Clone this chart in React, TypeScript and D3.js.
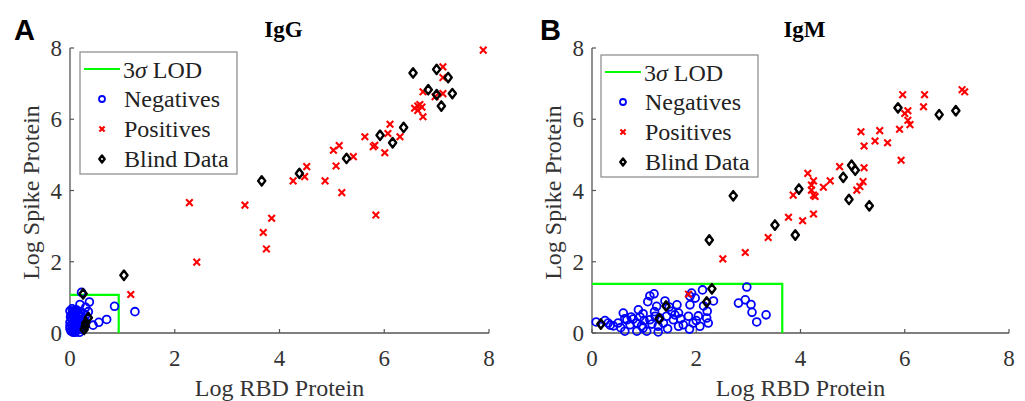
import React from "react";
import * as d3 from "d3";

// ---------- data ----------
const xTicks = [0, 2, 4, 6, 8];
const yTicks = [0, 2, 4, 6, 8];
const legendLabels = ["Negatives", "Positives", "Blind Data"];

// IgG panel
const iggLod: [number, number] = [0.93, 1.07];
const iggNegatives: [number, number][] = [
  [0.02, 0.05], [0.05, 0.15], [0.08, 0.3], [0.03, 0.4], [0.1, 0.5], [0.05, 0.6], [0.12, 0.65],
  [0.15, 0.1], [0.2, 0.2], [0.18, 0.35], [0.22, 0.45], [0.1, 0.25], [0.0, 0.3], [0.02, 0.5],
  [0.07, 0.45], [0.14, 0.4], [0.25, 0.55], [0.2, 0.6], [0.28, 0.35], [0.06, 0.02], [0.12, 0.08],
  [0.24, 0.1], [0.3, 0.5], [0.16, 0.55], [0.04, 0.68], [0.09, 0.15], [0.18, 0.02], [0.27, 0.22],
  [0.0, 0.12], [0.13, 0.3], [0.0, 0.62], [0.08, 0.05], [0.22, 0.3], [0.15, 0.2],
  [0.04, 0.22], [0.11, 0.38], [0.01, 0.45], [0.17, 0.48], [0.06, 0.55], [0.2, 0.12], [0.1, 0.02],
  [0.0, 0.2], [0.23, 0.38], [0.08, 0.62], [0.19, 0.28], [0.03, 0.08],
  [0.22, 1.14], [0.19, 0.8], [0.37, 0.87], [0.85, 0.75], [1.24, 0.6], [0.7, 0.38], [0.55, 0.3],
  [0.44, 0.22], [0.3, 0.72], [0.35, 0.6],
];
const iggPositives: [number, number][] = [
  [7.89, 7.94], [7.12, 7.47], [7.12, 7.17], [6.74, 6.77], [7.12, 6.72], [6.97, 6.63],
  [6.64, 6.37], [6.68, 6.41], [6.58, 6.31], [6.64, 6.25], [6.72, 6.34], [6.74, 6.07],
  [6.11, 5.86], [6.07, 5.6], [6.3, 5.51], [5.63, 5.51], [5.79, 5.23], [5.82, 5.27], [6.01, 5.06],
  [5.14, 5.26], [5.03, 5.13], [5.41, 4.95], [5.08, 4.69], [4.52, 4.67], [4.48, 4.39],
  [4.26, 4.27], [4.87, 4.27], [5.19, 3.94], [5.84, 3.31], [3.85, 3.22], [3.69, 2.82],
  [3.75, 2.36], [2.28, 3.66], [3.34, 3.59], [2.42, 1.99], [1.16, 1.08],
];
const iggBlind: [number, number][] = [
  [6.55, 7.3], [7.0, 7.4], [7.22, 7.17], [6.84, 6.83], [7.0, 6.69], [7.3, 6.72], [7.09, 6.37],
  [6.37, 5.77], [6.16, 5.34], [5.92, 5.55], [5.28, 4.9], [4.38, 4.48], [3.66, 4.27],
  [1.03, 1.62], [0.25, 1.1], [0.35, 0.43], [0.3, 0.28], [0.27, 0.1], [0.29, 0.19],
];

// IgM panel
const igmLod: [number, number] = [3.65, 1.38];
const igmNegatives: [number, number][] = [
  [0.08, 0.31], [0.25, 0.35], [0.31, 0.28], [0.35, 0.22], [0.41, 0.2], [0.5, 0.28], [0.6, 0.56],
  [0.63, 0.05], [0.63, 0.4], [0.67, 0.37], [0.73, 0.23], [0.79, 0.39], [0.86, 0.28], [0.86, 0.05],
  [0.89, 0.65], [0.98, 0.54], [0.98, 0.14], [1.05, 0.05], [1.11, 0.37], [1.21, 0.47], [1.27, 0.19],
  [1.27, 0.03], [1.37, 0.28], [1.43, 0.47], [1.53, 0.61], [1.56, 0.37], [1.59, 0.51], [1.66, 0.56],
  [1.66, 0.19], [1.75, 0.23], [1.85, 0.47], [1.87, 0.11], [1.94, 0.28], [2.04, 0.48], [2.07, 0.19],
  [2.2, 0.42], [2.23, 0.28], [2.21, 0.61], [1.11, 1.04], [1.19, 1.1], [1.07, 0.88], [1.24, 0.75],
  [1.4, 0.9], [1.48, 0.73], [1.63, 0.79], [1.88, 0.79], [1.88, 1.03], [1.91, 1.12], [1.98, 0.98],
  [2.12, 1.21], [2.14, 0.76], [2.33, 0.9], [2.81, 0.84], [2.97, 1.29], [2.94, 0.93], [3.05, 0.8],
  [3.07, 0.58], [3.16, 0.31], [3.34, 0.51], [0.75, 0.45], [0.92, 0.45], [1.0, 0.35], [1.15, 0.25],
  [1.3, 0.42], [0.55, 0.15], [1.45, 0.12], [1.7, 0.4], [2.0, 0.35], [1.2, 0.6], [0.95, 0.2],
];
const igmPositives: [number, number][] = [
  [7.1, 6.83], [7.15, 6.77], [6.38, 6.69], [5.96, 6.69], [6.36, 6.35], [6.06, 6.24], [6.0, 6.16],
  [6.06, 5.97], [6.1, 5.85], [5.9, 5.72], [5.16, 5.65], [5.52, 5.68], [5.43, 5.39], [5.67, 5.34],
  [5.22, 5.25], [5.93, 4.85], [4.75, 4.67], [5.22, 4.64], [4.14, 4.48], [4.57, 4.27], [4.25, 4.27],
  [4.44, 4.09], [4.21, 4.15], [5.2, 4.25], [5.14, 4.11], [5.08, 4.01], [4.21, 4.01], [4.25, 3.87],
  [4.28, 3.83], [3.86, 3.87], [4.25, 3.34], [4.04, 3.15], [3.77, 3.25], [3.38, 2.68], [2.51, 2.08],
  [2.94, 2.26], [1.85, 1.09],
];
const igmBlind: [number, number][] = [
  [5.87, 6.32], [6.66, 6.13], [6.98, 6.24], [4.98, 4.71], [5.05, 4.57], [4.82, 4.37], [3.97, 4.04],
  [4.93, 3.75], [5.32, 3.57], [3.9, 2.75], [3.51, 3.03], [2.71, 3.85], [2.25, 2.61], [2.3, 1.24],
  [2.2, 0.87], [1.42, 0.76], [1.29, 0.4], [0.17, 0.25],
];

// ---------- drawing ----------
const FONT = "Liberation Serif, Times New Roman, serif";
const AXIS = "#555";
const TXT = "#333";

function Circle({ x, y, r = 3.9 }: { x: number; y: number; r?: number }) {
  return <circle cx={x} cy={y} r={r} fill="none" stroke="#0000ff" strokeWidth={1.8} />;
}
function Cross({ x, y, s = 3.3 }: { x: number; y: number; s?: number }) {
  return (
    <path
      d={`M${x - s},${y - s}L${x + s},${y + s}M${x - s},${y + s}L${x + s},${y - s}`}
      stroke="#ff0000"
      strokeWidth={2.1}
      fill="none"
    />
  );
}
function Diamond({ x, y, w = 3.6, h = 4.7 }: { x: number; y: number; w?: number; h?: number }) {
  return (
    <path
      d={`M${x},${y - h}L${x + w},${y}L${x},${y + h}L${x - w},${y}Z`}
      stroke="#000"
      strokeWidth={2.4}
      fill="none"
      strokeLinejoin="round"
    />
  );
}

type PanelProps = {
  left: number;
  right: number;
  top: number;
  bottom: number;
  letter: string;
  letterX: number;
  title: string;
  lod: [number, number];
  neg: [number, number][];
  pos: [number, number][];
  blind: [number, number][];
  legendX: number;
  legendY: number;
};

function Panel(p: PanelProps) {
  const x = d3.scaleLinear().domain([0, 8]).range([p.left, p.right]);
  const y = d3.scaleLinear().domain([0, 8]).range([p.bottom, p.top]);
  const cx = (p.left + p.right) / 2;
  const cy = (p.top + p.bottom) / 2;
  const lodPath = d3.line()([
    [x(0), y(p.lod[1])],
    [x(p.lod[0]), y(p.lod[1])],
    [x(p.lod[0]), y(0)],
  ]) as string;
  const lx = p.legendX;
  const ly = p.legendY;
  return (
    <g>
      <text x={p.letterX} y={40} fontFamily="Liberation Sans, Arial, sans-serif" fontWeight="bold" fontSize={29} fill="#000">
        {p.letter}
      </text>
      <text x={cx + 4} y={37} textAnchor="middle" fontFamily={FONT} fontWeight="bold" fontSize={23} fill="#000">
        {p.title}
      </text>
      {/* axes */}
      <line x1={p.left} x2={p.left} y1={p.top} y2={p.bottom} stroke={AXIS} strokeWidth={1.3} />
      <line x1={p.left} x2={p.right} y1={p.bottom} y2={p.bottom} stroke={AXIS} strokeWidth={1.3} />
      {yTicks.map((t) => (
        <g key={"y" + t}>
          <line x1={p.left} x2={p.left + 4} y1={y(t)} y2={y(t)} stroke={AXIS} strokeWidth={1.2} />
          <text x={p.left - 8} y={y(t) + 8} textAnchor="end" fontFamily={FONT} fontSize={23} fill={TXT}>
            {t}
          </text>
        </g>
      ))}
      {xTicks.map((t) => (
        <g key={"x" + t}>
          <line x1={x(t)} x2={x(t)} y1={p.bottom} y2={p.bottom - 4} stroke={AXIS} strokeWidth={1.2} />
          <text x={x(t)} y={p.bottom + 33} textAnchor="middle" fontFamily={FONT} fontSize={23} fill={TXT}>
            {t}
          </text>
        </g>
      ))}
      <text x={cx} y={396} textAnchor="middle" fontFamily={FONT} fontSize={24} fill={TXT}>
        Log RBD Protein
      </text>
      <text
        transform={`translate(${p.left - 31},${cy + 2}) rotate(-90)`}
        textAnchor="middle"
        fontFamily={FONT}
        fontSize={24}
        fill={TXT}
      >
        Log Spike Protein
      </text>
      {/* LOD */}
      <path d={lodPath} fill="none" stroke="#00ff00" strokeWidth={2.2} />
      {p.neg.map((d, i) => (
        <Circle key={"n" + i} x={x(d[0])} y={y(d[1])} />
      ))}
      {p.pos.map((d, i) => (
        <Cross key={"p" + i} x={x(d[0])} y={y(d[1])} />
      ))}
      {p.blind.map((d, i) => (
        <Diamond key={"b" + i} x={x(d[0])} y={y(d[1])} />
      ))}
      {/* legend */}
      <rect x={lx} y={ly} width={157} height={122} fill="#fff" stroke="#888" strokeWidth={1.2} />
      <line x1={lx + 4} x2={lx + 40} y1={ly + 17} y2={ly + 17} stroke="#00ff00" strokeWidth={2.2} />
      <text x={lx + 43} y={ly + 26} fontFamily={FONT} fontSize={24} fill="#222">
        3<tspan fontStyle="italic">σ</tspan> LOD
      </text>
      <Circle x={lx + 22} y={ly + 47} r={3} />
      <text x={lx + 44} y={ly + 55} fontFamily={FONT} fontSize={24} fill="#222">
        {legendLabels[0]}
      </text>
      <Cross x={lx + 22} y={ly + 77} s={2.6} />
      <text x={lx + 44} y={ly + 85} fontFamily={FONT} fontSize={24} fill="#222">
        {legendLabels[1]}
      </text>
      <Diamond x={lx + 22} y={ly + 107} w={2.7} h={3.5} />
      <text x={lx + 44} y={ly + 115} fontFamily={FONT} fontSize={24} fill="#222">
        {legendLabels[2]}
      </text>
    </g>
  );
}

export default function App() {
  return (
    <svg
      width={1025}
      height={401}
      style={{ position: "absolute", left: 0, top: 0, background: "#fff" }}
    >
      <rect width={1025} height={401} fill="#fff" />
      <Panel
        left={70}
        right={489}
        top={48}
        bottom={333}
        letter="A"
        letterX={14}
        title="IgG"
        lod={iggLod}
        neg={iggNegatives}
        pos={iggPositives}
        blind={iggBlind}
        legendX={80}
        legendY={52}
      />
      <Panel
        left={592}
        right={1009}
        top={48}
        bottom={333}
        letter="B"
        letterX={540}
        title="IgM"
        lod={igmLod}
        neg={igmNegatives}
        pos={igmPositives}
        blind={igmBlind}
        legendX={601}
        legendY={55}
      />
    </svg>
  );
}
